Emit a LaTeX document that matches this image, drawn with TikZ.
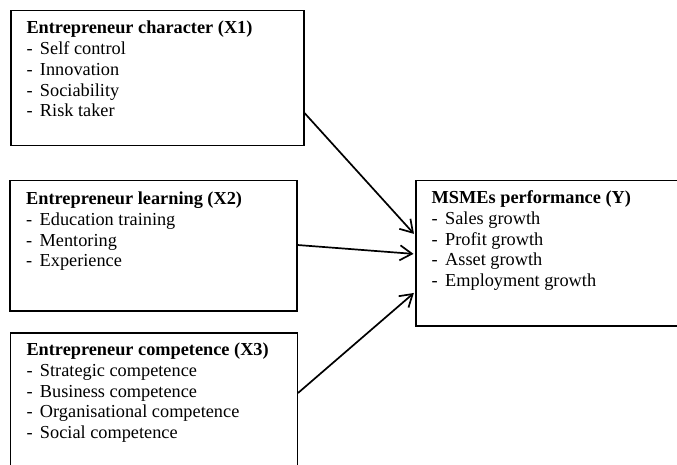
\documentclass[tikz,border=0pt]{standalone}
\usepackage{fontspec}
\setmainfont{Liberation Serif}
\usetikzlibrary{arrows.meta,calc}
\tikzset{
  box/.style={draw, line width=1.5pt, inner sep=0pt, anchor=north west},
  txt/.style={inner sep=0pt, anchor=base west, font=\fontsize{18.3}{20.8}\selectfont},
  conn/.style={line width=1.7pt, -{Straight Barb[length=12pt,width=15pt,line width=1.7pt]}, shorten >=1.5pt}
}
\newcommand{\itm}[1]{\makebox[13.5pt][l]{-}#1}
\begin{document}
\begin{tikzpicture}[x=1pt,y=-1pt]
\clip (0,0) rectangle (677,465);
\fill[white] (0,0) rectangle (677,465);
% boxes
\node[box, minimum width=293pt, minimum height=135pt] (x1) at (10,10) {};
\node[box, minimum width=287pt, minimum height=130pt] (x2) at (9,180) {};
\node[box, minimum width=287pt, minimum height=160pt] (x3) at (9.5,332) {};
\node[box, minimum width=290pt, minimum height=145pt] (y) at (415,180) {};
% texts
\node[txt] (x1t) at (26.3,33.8) {\begin{tabular}[t]{@{}l@{}}\textbf{Entrepreneur character (X1)}\\ \itm{Self control}\\ \itm{Innovation}\\ \itm{Sociability}\\ \itm{Risk taker}\end{tabular}};
\node[txt] (x2t) at (26,204.5) {\begin{tabular}[t]{@{}l@{}}\textbf{Entrepreneur learning (X2)}\\ \itm{Education training}\\ \itm{Mentoring}\\ \itm{Experience}\end{tabular}};
\node[txt] (x3t) at (26.3,355.5) {\begin{tabular}[t]{@{}l@{}}\textbf{Entrepreneur competence (X3)}\\ \itm{Strategic competence}\\ \itm{Business competence}\\ \itm{Organisational competence}\\ \itm{Social competence}\end{tabular}};
\node[txt] (yt) at (431.5,203.5) {\begin{tabular}[t]{@{}l@{}}\textbf{MSMEs performance (Y)}\\ \itm{Sales growth}\\ \itm{Profit growth}\\ \itm{Asset growth}\\ \itm{Employment growth}\end{tabular}};
% connectors
\draw[conn] ($(x1.north east)+(0,103)$) -- ($(y.north west)+(0,55)$);
\draw[conn] ($(x2.north east)+(0,65)$) -- ($(y.north west)+(0,74)$);
\draw[conn] ($(x3.north east)+(0,61)$) -- ($(y.north west)+(0,112)$);
\end{tikzpicture}
\end{document}
